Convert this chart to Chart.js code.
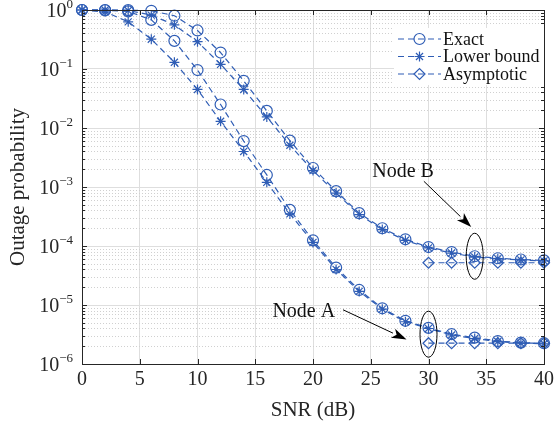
<!DOCTYPE html>
<html>
<head>
<meta charset="utf-8">
<script src="https://cdn.jsdelivr.net/npm/chart.js@4/dist/chart.umd.min.js"></script>
<style>
  html, body { margin: 0; padding: 0; background: #fff; }
  #wrap { width: 555px; height: 426px; }
</style>
</head>
<body>
<div id="wrap"><canvas id="c" width="555" height="426"></canvas></div>
<script>
// ---------- data ----------
const snr = [0,2,4,6,8,10,12,14,16,18,20,22,24,26,28,30,32,34,36,38,40];
const snrAsym = [30,32,34,36,38,40];

const nodeAExact = [1,0.99,0.95,0.68,0.30,0.096,0.025,0.006,0.0016,4.1e-4,1.25e-4,4.3e-5,1.8e-5,8.8e-6,5.4e-6,4.1e-6,3.2e-6,2.8e-6,2.45e-6,2.3e-6,2.25e-6];
const nodeALower = [1,0.93,0.63,0.32,0.13,0.045,0.013,0.004,0.0012,3.5e-4,1.15e-4,4.0e-5,1.7e-5,8.5e-6,5.2e-6,4.0e-6,3.1e-6,2.7e-6,2.4e-6,2.25e-6,2.2e-6];
const nodeAAsym = [2.25e-6,2.25e-6,2.25e-6,2.25e-6,2.25e-6,2.25e-6];

const nodeBExact = [1,1,0.995,0.97,0.80,0.45,0.19,0.063,0.0195,0.0061,0.0021,8.5e-4,3.6e-4,2.0e-4,1.3e-4,9.6e-5,7.9e-5,6.7e-5,6.2e-5,5.9e-5,5.7e-5];
const nodeBLower = [1,1,0.98,0.82,0.56,0.29,0.12,0.045,0.0154,0.0051,0.0019,7.9e-4,3.4e-4,1.9e-4,1.25e-4,9.3e-5,7.6e-5,6.5e-5,6.1e-5,5.8e-5,5.6e-5];
const nodeBAsym = [5.2e-5,5.2e-5,5.2e-5,5.2e-5,5.2e-5,5.2e-5];

const xTicks = [0,5,10,15,20,25,30,35,40];
const yExponents = [0,-1,-2,-3,-4,-5,-6];
const legendLabels = ['Exact','Lower bound','Asymptotic'];
const legendMarkers = ['circle','star','rectRot'];
const xTitle = 'SNR (dB)';
const yTitle = 'Outage probability';
const nodeLabels = ['Node A','Node B'];

// ---------- style ----------
const BLUE = '#2f5db5';
const FONT = '"Liberation Serif", "Times New Roman", serif';
const FS_TICK = 20;
const FS_SUP = 13;
const FS_TITLE = 21;
const FS_NOTE = 20;
const FS_LEG = 18;

function pts(xs, ys) { return xs.map((x, i) => ({ x: x, y: ys[i] })); }
function ds(label, xs, ys, marker) {
  return {
    label: label, data: pts(xs, ys),
    borderColor: BLUE, backgroundColor: 'rgba(0,0,0,0)',
    borderWidth: 1.2, borderDash: [6, 4],
    pointStyle: marker, pointRadius: marker === 'star' ? 5 : 5.5,
    pointBorderColor: BLUE, pointBackgroundColor: 'rgba(0,0,0,0)',
    pointBorderWidth: 1.2, pointHoverRadius: 5,
    clip: false, tension: 0
  };
}

const datasets = [
  ds('Node A Exact', snr, nodeAExact, 'circle'),
  ds('Node A Lower bound', snr, nodeALower, 'star'),
  ds('Node A Asymptotic', snrAsym, nodeAAsym, 'rectRot'),
  ds('Node B Exact', snr, nodeBExact, 'circle'),
  ds('Node B Lower bound', snr, nodeBLower, 'star'),
  ds('Node B Asymptotic', snrAsym, nodeBAsym, 'rectRot')
];

// annotation anchors in data coordinates
const notes = {
  B: { text: [27.8, 1.8e-3], from: [29.6, 1.25e-3], to: [33.7, 2.1e-4], ell: [34, 6.7e-5] },
  A: { text: [19.2, 7.6e-6], from: [22.6, 8.3e-6], to: [28.1, 2.6e-6], ell: [30, 3.2e-6] }
};

function drawArrow(ctx, x1, y1, x2, y2) {
  const ang = Math.atan2(y2 - y1, x2 - x1);
  const hl = 15, hw = 5;
  const bx = x2 - hl * Math.cos(ang), by = y2 - hl * Math.sin(ang);
  ctx.beginPath();
  ctx.moveTo(x1, y1); ctx.lineTo(bx, by);
  ctx.stroke();
  ctx.beginPath();
  ctx.moveTo(x2, y2);
  ctx.lineTo(bx + hw * Math.sin(ang), by - hw * Math.cos(ang));
  ctx.lineTo(bx + 4 * Math.cos(ang), by + 4 * Math.sin(ang));
  ctx.lineTo(bx - hw * Math.sin(ang), by + hw * Math.cos(ang));
  ctx.closePath();
  ctx.fill();
}

const decorations = {
  id: 'decorations',
  beforeDatasetsDraw(chart) {
    const { ctx, chartArea: a, scales: { y } } = chart;
    ctx.save();
    ctx.strokeStyle = '#d0d0d0';
    ctx.lineWidth = 1;
    ctx.setLineDash([1, 2]);
    for (let e = -6; e < 0; e++) {
      for (let m = 2; m <= 9; m++) {
        const py = Math.round(y.getPixelForValue(m * Math.pow(10, e))) + 0.5;
        ctx.beginPath(); ctx.moveTo(a.left, py); ctx.lineTo(a.right, py); ctx.stroke();
      }
    }
    ctx.restore();
  },
  afterDatasetsDraw(chart) {
    const { ctx, chartArea: a, scales: { x, y } } = chart;
    ctx.save();
    // box
    ctx.strokeStyle = '#262626';
    ctx.lineWidth = 1;
    ctx.setLineDash([]);
    ctx.strokeRect(Math.round(a.left) + 0.5, Math.round(a.top) + 0.5,
                   Math.round(a.right - a.left), Math.round(a.bottom - a.top));
    ctx.beginPath();
    xTicks.forEach(v => {
      const px = Math.round(x.getPixelForValue(v)) + 0.5;
      ctx.moveTo(px, a.bottom); ctx.lineTo(px, a.bottom - 5);
      ctx.moveTo(px, a.top); ctx.lineTo(px, a.top + 5);
    });
    yExponents.forEach(e => {
      const py = Math.round(y.getPixelForValue(Math.pow(10, e))) + 0.5;
      ctx.moveTo(a.left, py); ctx.lineTo(a.left + 5, py);
      ctx.moveTo(a.right, py); ctx.lineTo(a.right - 5, py);
      if (e < 0) {
        for (let m = 2; m <= 9; m++) {
          const pm = Math.round(y.getPixelForValue(m * Math.pow(10, e))) + 0.5;
          ctx.moveTo(a.left, pm); ctx.lineTo(a.left + 3, pm);
          ctx.moveTo(a.right, pm); ctx.lineTo(a.right - 3, pm);
        }
      }
    });
    ctx.stroke();

    // tick labels
    ctx.fillStyle = '#262626';
    ctx.font = FS_TICK + 'px ' + FONT;
    ctx.textAlign = 'center';
    ctx.textBaseline = 'top';
    xTicks.forEach(v => ctx.fillText(String(v), x.getPixelForValue(v), a.bottom + 6));
    ctx.textBaseline = 'alphabetic';
    yExponents.forEach(e => {
      const py = y.getPixelForValue(Math.pow(10, e));
      const sup = e === 0 ? '0' : '\u2212' + Math.abs(e);
      ctx.font = FS_SUP + 'px ' + FONT;
      const sw = ctx.measureText(sup).width;
      ctx.font = FS_TICK + 'px ' + FONT;
      const bw = ctx.measureText('10').width;
      const right = a.left - 9;
      ctx.textAlign = 'left';
      ctx.fillText('10', right - sw - bw, py + 7);
      ctx.font = FS_SUP + 'px ' + FONT;
      ctx.fillText(sup, right - sw, py - 2);
    });

    // axis titles
    ctx.font = FS_TITLE + 'px ' + FONT;
    ctx.textAlign = 'center';
    ctx.textBaseline = 'middle';
    ctx.fillText(xTitle, (a.left + a.right) / 2, a.bottom + 46);
    ctx.save();
    ctx.translate(18, (a.top + a.bottom) / 2);
    ctx.rotate(-Math.PI / 2);
    ctx.fillText(yTitle, 0, 0);
    ctx.restore();

    // annotations
    ctx.strokeStyle = '#000';
    ctx.lineWidth = 1;
    [['A', nodeLabels[0]], ['B', nodeLabels[1]]].forEach(([k, label]) => {
      const n = notes[k];
      ctx.fillStyle = '#111';
      ctx.font = FS_NOTE + 'px ' + FONT;
      ctx.textAlign = 'center';
      ctx.textBaseline = 'middle';
      ctx.fillText(label, x.getPixelForValue(n.text[0]), y.getPixelForValue(n.text[1]));
      ctx.fillStyle = '#000';
      drawArrow(ctx, x.getPixelForValue(n.from[0]), y.getPixelForValue(n.from[1]),
                x.getPixelForValue(n.to[0]), y.getPixelForValue(n.to[1]));
      ctx.beginPath();
      ctx.ellipse(x.getPixelForValue(n.ell[0]), y.getPixelForValue(n.ell[1]), 8.5, 23, 0, 0, Math.PI * 2);
      ctx.stroke();
    });

    // legend
    const lx = 398, ly = 39, dy = 17.5;
    ctx.fillStyle = '#fff';
    ctx.fillRect(lx - 4, ly - 11, 150, dy * 2 + 22);
    legendLabels.forEach((lab, i) => {
      const yy = ly + i * dy;
      ctx.strokeStyle = BLUE;
      ctx.lineWidth = 1.2;
      ctx.setLineDash([6, 4]);
      ctx.beginPath(); ctx.moveTo(lx, yy); ctx.lineTo(lx + 43, yy); ctx.stroke();
      ctx.setLineDash([]);
      ctx.fillStyle = 'rgba(0,0,0,0)';
      ctx.strokeStyle = BLUE;
      Chart.helpers.drawPoint(ctx, {
        pointStyle: legendMarkers[i], radius: legendMarkers[i] === 'star' ? 5 : 5.5,
        rotation: 0, borderWidth: 1.2
      }, lx + 21.5, yy);
      ctx.fillStyle = '#111';
      ctx.font = FS_LEG + 'px ' + FONT;
      ctx.textAlign = 'left';
      ctx.textBaseline = 'middle';
      ctx.fillText(lab, lx + 45, yy + 1);
    });
    ctx.restore();
  }
};

new Chart(document.getElementById('c'), {
  type: 'line',
  data: { datasets: datasets },
  options: {
    responsive: false,
    animation: false,
    events: [],
    layout: { padding: { left: 82, right: 11, top: 10, bottom: 62 } },
    plugins: { legend: { display: false }, tooltip: { enabled: false } },
    scales: {
      x: {
        type: 'linear', min: 0, max: 40,
        ticks: { display: false, stepSize: 5 },
        afterBuildTicks: s => { s.ticks = xTicks.map(v => ({ value: v })); },
        grid: { color: '#dedede', lineWidth: 1, drawTicks: false },
        border: { display: false }
      },
      y: {
        type: 'logarithmic', min: 1e-6, max: 1,
        ticks: { display: false },
        afterBuildTicks: s => { s.ticks = yExponents.map(e => ({ value: Math.pow(10, e) })); },
        grid: { color: '#dedede', lineWidth: 1, drawTicks: false },
        border: { display: false }
      }
    }
  },
  plugins: [decorations]
});
</script>
</body>
</html>
